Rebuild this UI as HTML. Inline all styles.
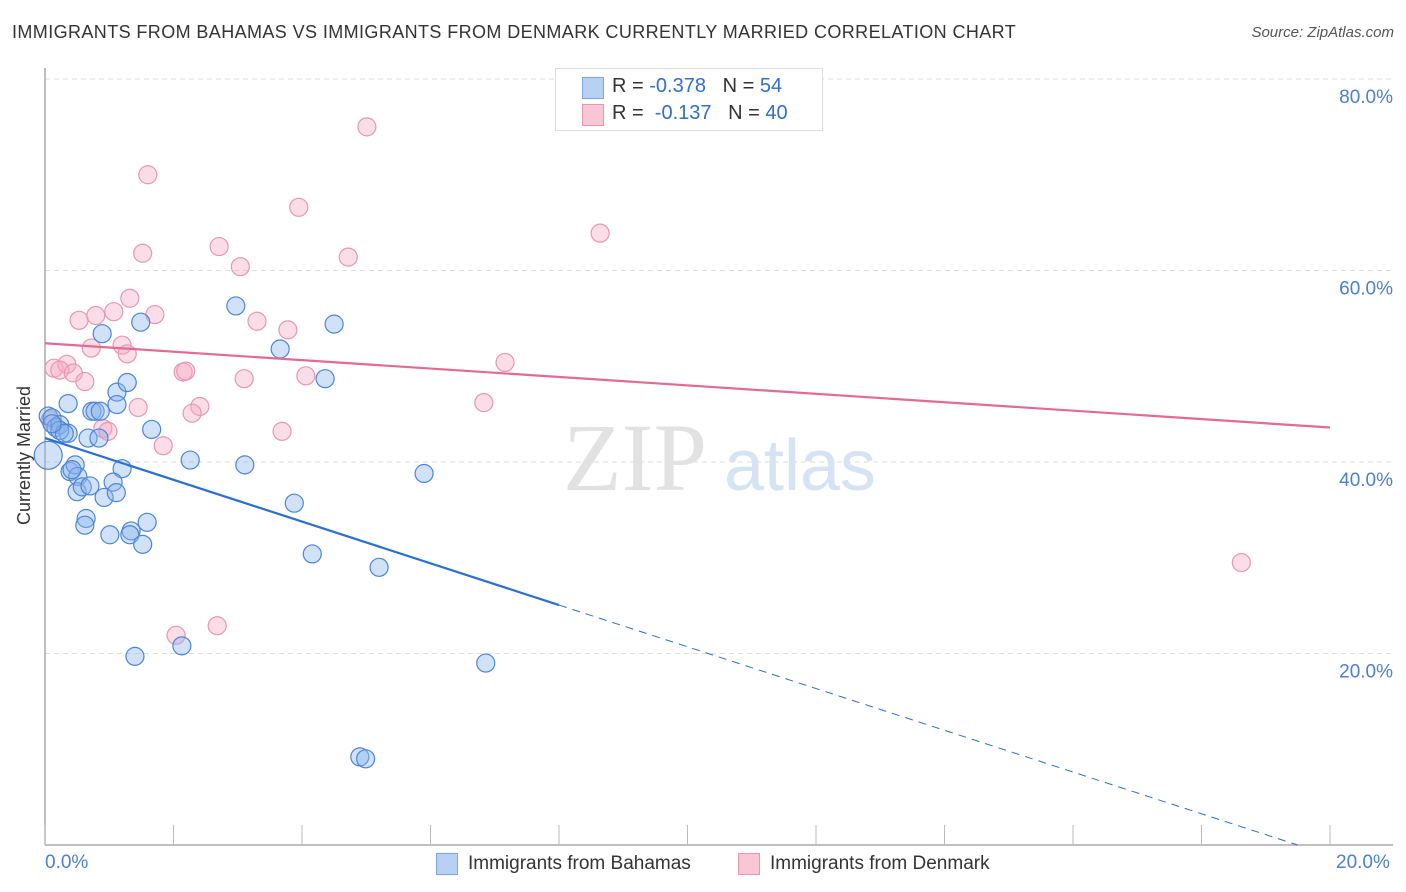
<!DOCTYPE html>
<html><head><meta charset="utf-8"><style>
body{margin:0;background:#fff;font-family:"Liberation Sans",sans-serif;}
#wrap{position:relative;width:1406px;height:892px;overflow:hidden;}
.t{position:absolute;white-space:nowrap;}
</style></head><body>
<div id="wrap">
<div class="t" style="left:12px;top:22px;font-size:18px;color:#333;letter-spacing:0.4px;">IMMIGRANTS FROM BAHAMAS VS IMMIGRANTS FROM DENMARK CURRENTLY MARRIED CORRELATION CHART</div>
<div class="t" style="right:12px;top:24px;font-size:15px;color:#555;font-style:italic;">Source: ZipAtlas.com</div>
<svg id="svg" width="1406" height="892" style="position:absolute;left:0;top:0"></svg>
</div>
<script>
const xTicks=[0,2,4,6,8,10,12,14,16,18,20];
const yTicks=[20,40,60,80];
const blueX=[0.05,0.11,0.17,0.23,0.36,0.36,0.67,0.84,0.73,0.78,1.12,1.28,1.12,0.89,1.49,2.97,3.66,4.50,4.36,1.66,2.26,3.11,1.20,0.39,0.47,0.51,0.50,0.58,0.70,0.92,1.06,1.11,0.64,0.62,1.01,1.34,1.32,1.52,1.59,3.88,4.16,5.20,5.90,2.13,1.40,6.86,4.90,4.99,0.05,0.23,0.30,0.11,0.42,0.86];
const blueY=[44.8,44.6,43.6,43.9,46.1,43.0,42.5,42.5,45.3,45.3,47.3,48.3,46.0,53.4,54.6,56.3,51.8,54.4,48.7,43.4,40.2,39.7,39.3,39.0,39.7,38.5,36.9,37.4,37.5,36.3,37.9,36.8,34.1,33.4,32.4,32.8,32.4,31.4,33.7,35.7,30.4,29.0,38.8,20.8,19.7,19.0,9.2,9.0,40.7,43.3,43.0,44.0,39.2,45.3];
const pinkX=[5.01,1.60,3.95,8.64,2.71,1.52,4.72,3.04,1.32,1.07,1.71,0.79,0.53,3.30,3.78,0.72,1.20,1.28,0.14,0.34,0.23,0.44,2.15,2.19,3.10,4.06,7.16,0.62,1.45,2.41,2.29,0.90,0.98,1.84,3.69,6.83,18.62,2.04,2.68,0.08];
const pinkY=[75.0,70.0,66.6,63.9,62.5,61.8,61.4,60.4,57.1,55.7,55.4,55.3,54.8,54.7,53.8,51.9,52.2,51.3,49.8,50.2,49.6,49.3,49.4,49.5,48.7,49.0,50.4,48.4,45.7,45.8,45.1,43.5,43.2,41.7,43.2,46.2,29.5,21.9,22.9,44.4];
const blueFit=[42.5,-2.18]; // intercept, slope per %
const pinkFit=[52.4,-0.44];
const L=45,R=1330,T=79,B=845;
const sx=v=>L+v/20*(R-L), sy=v=>B-v/80*(B-T);
const svg=document.getElementById('svg');const NS='http://www.w3.org/2000/svg';
function mk(tag,attrs,parent){const e=document.createElementNS(NS,tag);for(const k in attrs)e.setAttribute(k,attrs[k]);(parent||svg).appendChild(e);return e;}
yTicks.forEach(v=>{const g=mk('line',{x1:L,x2:1393,y1:sy(v),y2:sy(v),stroke:'#ddd','stroke-dasharray':'5,4'});


const t=mk('text',{x:1393,y:sy(v)+24,'text-anchor':'end','font-size':19,fill:'#4a7fd4','font-family':'Liberation Sans,sans-serif'});t.textContent=v.toFixed(1)+'%';

});
const ax=mk('line',{x1:L,x2:1393,y1:B,y2:B,stroke:'#aaa','stroke-width':1.5});


const ay=mk('line',{x1:L,x2:L,y1:68,y2:B,stroke:'#aaa','stroke-width':1.5});


xTicks.forEach(v=>{const k=mk('line',{x1:sx(v),x2:sx(v),y1:825,y2:B,stroke:'#bbb'});

});
const w1=mk('text',{x:635,y:490,'text-anchor':'middle','font-size':96,fill:'#e2e2e2','font-family':'Liberation Serif,serif'});w1.textContent='ZIP';


const w2=mk('text',{x:800,y:490,'text-anchor':'middle','font-size':72,fill:'#d6e3f5','font-family':'Liberation Sans,sans-serif'});w2.textContent='atlas';


function pts(xs,ys,fill,stroke,name){xs.forEach((x,i)=>{const r=(i===48&&name==='point-bahamas')?14:9;const c=mk('circle',{cx:sx(x),cy:sy(ys[i]),r:r,fill:fill,stroke:stroke,'stroke-width':1.2});

});}
pts(pinkX,pinkY,'rgba(246,170,195,0.4)','#e996b2','point-denmark');
pts(blueX,blueY,'rgba(140,180,235,0.4)','#4a86d8','point-bahamas');
const xEnd=-blueFit[0]/blueFit[1];
const bl=mk('line',{x1:sx(0),y1:sy(blueFit[0]),x2:sx(8),y2:sy(blueFit[0]+blueFit[1]*8),stroke:'#2a6fd6','stroke-width':2.2});


const bd=mk('line',{x1:sx(8),y1:sy(blueFit[0]+blueFit[1]*8),x2:sx(xEnd),y2:sy(0),stroke:'#2a6fd6','stroke-width':1,'stroke-dasharray':'8,6'});


const pl=mk('line',{x1:sx(0),y1:sy(pinkFit[0]),x2:sx(20),y2:sy(pinkFit[0]+pinkFit[1]*20),stroke:'#e46a94','stroke-width':2.2});


</script>
<div class="t" style="left:-45px;top:445px;font-size:18px;color:#333;transform:rotate(-90deg);">Currently Married</div>
<div style="position:absolute;left:555px;top:68px;width:266px;height:61px;border:1px solid #ddd;background:#fff;font-size:20px;">
<div style="position:absolute;left:26px;top:8px;width:20px;height:20px;background:#b7d0f3;border:1px solid #7aa6e4"></div>
<div class="t" style="left:56px;top:6px;color:#333">R = <span style="color:#2e6fd0">-0.378</span>&nbsp;&nbsp;&nbsp;N = <span style="color:#2e6fd0">54</span></div>
<div style="position:absolute;left:26px;top:35px;width:20px;height:20px;background:#f8c6d5;border:1px solid #e996b2"></div>
<div class="t" style="left:56px;top:33px;color:#333">R = &nbsp;<span style="color:#2e6fd0">-0.137</span>&nbsp;&nbsp;&nbsp;N = <span style="color:#2e6fd0">40</span></div>
</div>
<div class="t" style="left:45px;top:852px;font-size:19px;color:#4a7fd4">0.0%</div>
<div class="t" style="left:1336px;top:852px;font-size:19px;color:#4a7fd4">20.0%</div>
<div style="position:absolute;left:436px;top:853px;width:20px;height:20px;background:#b7d0f3;border:1px solid #7aa6e4"></div>
<div class="t" style="left:468px;top:853px;font-size:19px;color:#333">Immigrants from Bahamas</div>
<div style="position:absolute;left:738px;top:853px;width:20px;height:20px;background:#f8c6d5;border:1px solid #e996b2"></div>
<div class="t" style="left:770px;top:853px;font-size:19px;color:#333">Immigrants from Denmark</div>
</body></html>
